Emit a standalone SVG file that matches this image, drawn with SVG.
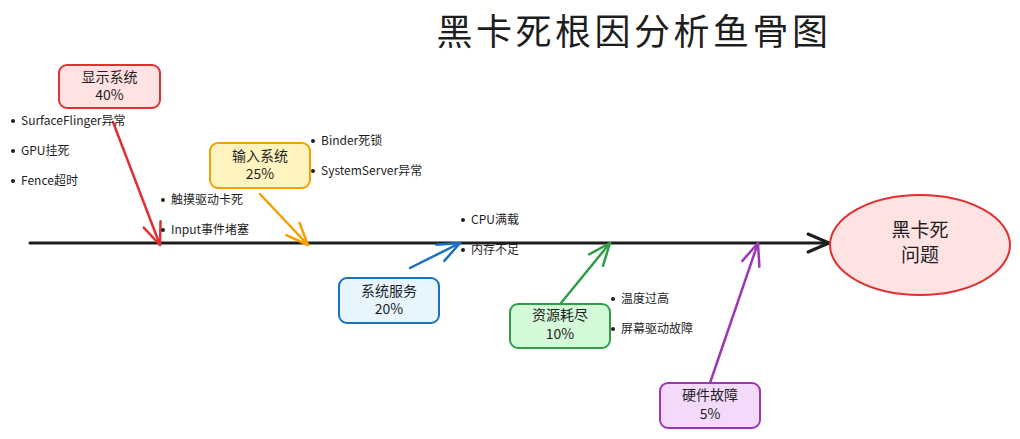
<svg xmlns="http://www.w3.org/2000/svg" width="1020" height="439" viewBox="0 0 1020 439">
  <style>
    text { font-family: "Noto Sans CJK SC", "Noto Sans", sans-serif; fill: #1e1e1e; }
    .title { font-size: 36px; text-anchor: middle; letter-spacing: 3.5px; }
    .lbl { font-size: 14px; text-anchor: middle; }
    .big { font-size: 19px; text-anchor: middle; }
    .item { font-size: 12px; }
    .box { stroke-width: 2; }
    .conn { fill: none; stroke-width: 2.5; stroke-linecap: round; }
    .dot { fill: #1e1e1e; }
  </style>
  <defs>
    <marker id="ah-black" markerUnits="userSpaceOnUse" viewBox="-25 -15 30 30" markerWidth="30" markerHeight="30" refX="0" refY="0" orient="auto" overflow="visible">
      <path d="M-21,-9 L0,0 L-21,9" fill="none" stroke="#1e1e1e" stroke-width="3" stroke-linecap="round" stroke-linejoin="round"/>
    </marker>
    <marker id="ah-red" markerUnits="userSpaceOnUse" viewBox="-25 -15 30 30" markerWidth="30" markerHeight="30" refX="0" refY="0" orient="auto" overflow="visible">
      <path d="M-22,-9 L0,0 L-22,9" fill="none" stroke="#e03131" stroke-width="2.5" stroke-linecap="round" stroke-linejoin="round"/>
    </marker>
    <marker id="ah-orange" markerUnits="userSpaceOnUse" viewBox="-25 -15 30 30" markerWidth="30" markerHeight="30" refX="0" refY="0" orient="auto" overflow="visible">
      <path d="M-22,-9 L0,0 L-22,9" fill="none" stroke="#f59f00" stroke-width="2.5" stroke-linecap="round" stroke-linejoin="round"/>
    </marker>
    <marker id="ah-blue" markerUnits="userSpaceOnUse" viewBox="-25 -15 30 30" markerWidth="30" markerHeight="30" refX="0" refY="0" orient="auto" overflow="visible">
      <path d="M-22,-9 L0,0 L-22,9" fill="none" stroke="#1971c2" stroke-width="2.5" stroke-linecap="round" stroke-linejoin="round"/>
    </marker>
    <marker id="ah-green" markerUnits="userSpaceOnUse" viewBox="-25 -15 30 30" markerWidth="30" markerHeight="30" refX="0" refY="0" orient="auto" overflow="visible">
      <path d="M-22,-9 L0,0 L-22,9" fill="none" stroke="#2f9e44" stroke-width="2.5" stroke-linecap="round" stroke-linejoin="round"/>
    </marker>
    <marker id="ah-purple" markerUnits="userSpaceOnUse" viewBox="-25 -15 30 30" markerWidth="30" markerHeight="30" refX="0" refY="0" orient="auto" overflow="visible">
      <path d="M-22,-9 L0,0 L-22,9" fill="none" stroke="#9c36b5" stroke-width="2.5" stroke-linecap="round" stroke-linejoin="round"/>
    </marker>
  </defs>

  <rect width="1020" height="439" fill="#ffffff"/>

  <text class="title" x="634" y="45">黑卡死根因分析鱼骨图</text>

  <g id="connectors">
    <line id="spine" x1="30" y1="243" x2="829" y2="243" stroke="#1e1e1e" stroke-width="3" stroke-linecap="round" marker-end="url(#ah-black)"/>
    <line class="conn" x1="113" y1="122" x2="160" y2="245" stroke="#e03131" marker-end="url(#ah-red)"/>
    <line class="conn" x1="260" y1="194" x2="308" y2="245" stroke="#f59f00" marker-end="url(#ah-orange)"/>
    <line class="conn" x1="410" y1="268" x2="460" y2="243" stroke="#1971c2" marker-end="url(#ah-blue)"/>
    <line class="conn" x1="561" y1="303" x2="610" y2="243" stroke="#2f9e44" marker-end="url(#ah-green)"/>
    <line class="conn" x1="710" y1="383" x2="758" y2="243" stroke="#9c36b5" marker-end="url(#ah-purple)"/>
  </g>

  <g id="problem">
    <ellipse cx="920" cy="245" rx="90" ry="50" fill="#ffe3e3" stroke="#e03131" stroke-width="2"/>
    <text class="big" x="920" y="237">黑卡死</text>
    <text class="big" x="920" y="262">问题</text>
  </g>

  <g id="display">
    <rect class="box" x="59" y="65" width="101" height="43" rx="8" fill="#ffe3e3" stroke="#e03131"/>
    <text class="lbl" x="109.5" y="82">显示系统</text>
    <text class="lbl" x="109.5" y="100">40%</text>
  </g>
  <g id="display-items">
    <circle class="dot" cx="13" cy="121" r="2"/>
    <text class="item" x="21" y="125">SurfaceFlinger异常</text>
    <circle class="dot" cx="13" cy="151" r="2"/>
    <text class="item" x="21" y="155">GPU挂死</text>
    <circle class="dot" cx="13" cy="181" r="2"/>
    <text class="item" x="21" y="185">Fence超时</text>
  </g>

  <g id="input">
    <rect class="box" x="210" y="143" width="100" height="45" rx="8" fill="#fff3bf" stroke="#f59f00"/>
    <text class="lbl" x="260" y="161">输入系统</text>
    <text class="lbl" x="260" y="179">25%</text>
  </g>
  <g id="input-items">
    <circle class="dot" cx="163" cy="200" r="2"/>
    <text class="item" x="171" y="204">触摸驱动卡死</text>
    <circle class="dot" cx="163" cy="230" r="2"/>
    <text class="item" x="171" y="234">Input事件堵塞</text>
  </g>

  <g id="sysserver-items">
    <circle class="dot" cx="313" cy="141" r="2"/>
    <text class="item" x="321" y="145">Binder死锁</text>
    <circle class="dot" cx="313" cy="171" r="2"/>
    <text class="item" x="321" y="175">SystemServer异常</text>
  </g>

  <g id="services">
    <rect class="box" x="339" y="278" width="100" height="45" rx="8" fill="#e7f5ff" stroke="#1971c2"/>
    <text class="lbl" x="389" y="296">系统服务</text>
    <text class="lbl" x="389" y="314">20%</text>
  </g>
  <g id="services-items">
    <circle class="dot" cx="463" cy="220" r="2"/>
    <text class="item" x="471" y="224">CPU满载</text>
    <circle class="dot" cx="463" cy="250" r="2"/>
    <text class="item" x="471" y="254">内存不足</text>
  </g>

  <g id="resource">
    <rect class="box" x="510" y="304" width="100" height="44" rx="8" fill="#d3f9d8" stroke="#2f9e44"/>
    <text class="lbl" x="560" y="320">资源耗尽</text>
    <text class="lbl" x="560" y="339">10%</text>
  </g>
  <g id="resource-items">
    <circle class="dot" cx="613" cy="299" r="2"/>
    <text class="item" x="621" y="303">温度过高</text>
    <circle class="dot" cx="613" cy="329" r="2"/>
    <text class="item" x="621" y="333">屏幕驱动故障</text>
  </g>

  <g id="hardware">
    <rect class="box" x="660" y="383" width="100" height="45" rx="8" fill="#f3d9fa" stroke="#9c36b5"/>
    <text class="lbl" x="710" y="400">硬件故障</text>
    <text class="lbl" x="710" y="419">5%</text>
  </g>
</svg>
